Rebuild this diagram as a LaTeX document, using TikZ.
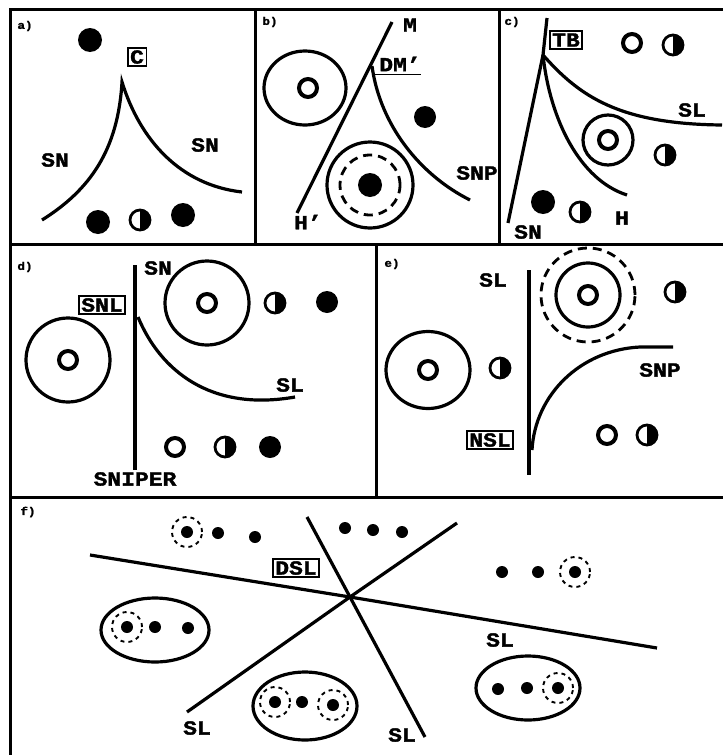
\documentclass[tikz,border=0pt]{standalone}
\usepackage{fontspec}
\setmainfont[FakeStretch=1.15,FakeBold=1.6]{Liberation Mono}
\usetikzlibrary{shapes.geometric}
\begin{document}
\begin{tikzpicture}[x=1pt,y=-1pt,
  lbl/.style={font=\bfseries\fontsize{20}{20}\selectfont, inner sep=0pt},
  plbl/.style={font=\bfseries\fontsize{11}{11}\selectfont, inner sep=0pt},
  boxlbl/.style={lbl, draw, line width=1.8pt, inner sep=2.5pt},
  frame/.style={line width=3pt},
  crv/.style={line width=3.2pt},
  fdot/.style={circle, fill=black, inner sep=0pt, minimum size=24pt},
  sdot/.style={circle, fill=black, inner sep=0pt, minimum size=12pt},
  odot/.style={circle, draw, fill=white, line width=4pt, inner sep=0pt, minimum size=18pt},
  hdot/.style={circle, draw, line width=2.8pt, inner sep=0pt, minimum size=20pt,
    path picture={\fill[black] (path picture bounding box.north) rectangle (path picture bounding box.south east);}},
  bigc/.style={circle, draw, line width=3.2pt, inner sep=0pt},
  dashc/.style={circle, draw, line width=2.8pt, inner sep=0pt, dash pattern=on 9pt off 6pt},
  sdash/.style={circle, draw, line width=1.9pt, inner sep=0pt, minimum size=30pt, dash pattern=on 4pt off 4pt},
  grp/.style={ellipse, draw, line width=3.2pt, inner sep=0pt}
]
\useasboundingbox[fill=white] (0,0) rectangle (723,755);

% frames
\draw[frame] (10,755) -- (10,9) -- (723,9);
\draw[frame] (10,244) -- (723,244);
\draw[frame] (10,497) -- (723,497);
\draw[frame] (255,9) -- (255,244);
\draw[frame] (499,9) -- (499,244);
\draw[frame] (376,244) -- (376,497);

% ---------- panel a ----------
\node[plbl] (aLab) at (25,26) {a)};
\node[fdot] (a1) at (90,40) {};
\node[boxlbl] (aC) at (137,57) {C};
\coordinate (aL) at (42,220);
\coordinate (aK) at (122,82);
\coordinate (aR) at (242,192);
\draw[crv] (aL) .. controls (90,190) and (118,150) .. (aK) .. controls (140,140) and (180,185) .. (aR);
\node[lbl] (aSN1) at (55,160) {SN};
\node[lbl] (aSN2) at (205,145) {SN};
\node[fdot] (a2) at (98,222) {};
\node[hdot] (a3) at (140,220) {};
\node[fdot] (a4) at (183,215) {};

% ---------- panel b ----------
\node[plbl] (bLab) at (270,22) {b)};
\node[ellipse, draw, line width=3.2pt, inner sep=0pt, minimum width=82pt, minimum height=74pt] (bC) at (305,88) {};
\node[odot] (bo) at (308,88) {};
\coordinate (bB) at (297,213);
\coordinate (bT) at (392,22);
\draw[crv] (bB) -- (bT);
\coordinate (bK) at (372,66);
\coordinate (bE) at (470,200);
\draw[crv] (bK) .. controls (380,125) and (420,175) .. (bE);
\node[lbl] (bM) at (410,25) {M};
\node[lbl] (bDM) at (400,64) {DM'};
\draw[line width=1.8pt] ([xshift=-6pt,yshift=-3pt]bDM.south west) -- ([yshift=-3pt]bDM.south east);
\node[fdot, minimum size=22pt] (b1) at (425,117) {};
\node[lbl] (bSNP) at (477,173) {SNP};
\node[bigc, minimum size=86pt] (bO) at (370,185) {};
\node[dashc, minimum size=60pt] (bD) at (370,185) {};
\node[fdot] (b2) at (370,185) {};
\node[lbl] (bH) at (308,222) {H'};

% ---------- panel c ----------
\node[plbl] (cLab) at (512,22) {c)};
\coordinate (cB) at (508,223);
\coordinate (cK) at (543,55);
\coordinate (cT) at (547,18);
\coordinate (cSLe) at (722,125);
\coordinate (cHe) at (627,195);
\draw[crv] (cB) -- (cK) -- (cT);
\draw[crv] (cK) .. controls (580,97) and (620,124) .. (cSLe);
\draw[crv] (cK) .. controls (550,120) and (580,180) .. (cHe);
\node[boxlbl] (cTB) at (566,40) {TB};
\node[odot] (c1) at (632,43) {};
\node[hdot] (c2) at (673,45) {};
\node[bigc, minimum size=50pt] (c3) at (608,140) {};
\node[odot] (c4) at (608,140) {};
\node[hdot] (c5) at (665,155) {};
\node[fdot] (c6) at (543,202) {};
\node[hdot] (c7) at (580,212) {};
\node[lbl] (cSL) at (692,110) {SL};
\node[lbl] (cH) at (622,218) {H};
\node[lbl] (cSN) at (528,232) {SN};

% ---------- panel d ----------
\node[plbl] (dLab) at (25,267) {d)};
\coordinate (dT) at (135,265);
\coordinate (dB) at (135,470);
\draw[crv] (dT) -- (dB);
\node[lbl] (dSN) at (158,268) {SN};
\node[boxlbl] (dSNL) at (102,305) {SNL};
\node[bigc, minimum size=84pt] (dC1) at (68,360) {};
\node[odot] (dC1i) at (68,360) {};
\coordinate (dS) at (138,317);
\coordinate (dE) at (295,397);
\draw[crv] (dS) .. controls (160,370) and (210,412) .. (dE);
\node[lbl] (dSL) at (290,385) {SL};
\node[bigc, minimum size=84pt] (dC2) at (207,303) {};
\node[odot] (dC2i) at (207,303) {};
\node[hdot] (d1) at (275,303) {};
\node[fdot, minimum size=22pt] (d2) at (327,302) {};
\node[odot] (d3) at (175,447) {};
\node[hdot] (d4) at (225,447) {};
\node[fdot, minimum size=22pt] (d5) at (270,447) {};
\node[lbl] (dSNIPER) at (135,479) {SNIPER};

% ---------- panel e ----------
\node[plbl] (eLab) at (392,264) {e)};
\node[lbl] (eSL) at (493,280) {SL};
\coordinate (eT) at (529,270);
\coordinate (eB) at (529,475);
\draw[crv] (eT) -- (eB);
\node[dashc, minimum size=94pt] (eD) at (588,295) {};
\node[bigc, minimum size=64pt] (eO) at (588,295) {};
\node[odot] (eOi) at (588,295) {};
\node[hdot] (e1) at (675,292) {};
\coordinate (eS) at (532,450);
\coordinate (eM) at (640,347);
\coordinate (eE) at (673,347);
\draw[crv] (eS) .. controls (535,395) and (580,350) .. (eM) -- (eE);
\node[lbl] (eSNP) at (660,370) {SNP};
\node[ellipse, draw, line width=3.2pt, inner sep=0pt, minimum width=84pt, minimum height=77pt] (eC) at (428,370) {};
\node[odot] (eCi) at (428,370) {};
\node[hdot] (e2) at (500,368) {};
\node[boxlbl] (eNSL) at (490,440) {NSL};
\node[odot] (e3) at (607,435) {};
\node[hdot] (e4) at (647,435) {};

% ---------- panel f ----------
\node[plbl] (fLab) at (28,512) {f)};
\coordinate (fX) at (350,597);
\coordinate (f1a) at (90,555);
\coordinate (f1b) at (657,648);
\coordinate (f2a) at (307,517);
\coordinate (f2b) at (425,737);
\coordinate (f3a) at (187,712);
\coordinate (f3b) at (457,523);
\draw[crv] (f1a) -- (fX) -- (f1b);
\draw[crv] (f2a) -- (fX) -- (f2b);
\draw[crv] (f3a) -- (fX) -- (f3b);
\node[boxlbl] (fDSL) at (296,568) {DSL};
\node[lbl] (fSL1) at (197,728) {SL};
\node[lbl] (fSL2) at (500,640) {SL};
\node[lbl] (fSL3) at (402,735) {SL};
% top left group
\node[sdash] (ft1c) at (187,532) {};
\node[sdot] (ft1) at (187,532) {};
\node[sdot] (ft2) at (218,533) {};
\node[sdot] (ft3) at (255,537) {};
% top middle
\node[sdot] (fm1) at (345,528) {};
\node[sdot] (fm2) at (373,530) {};
\node[sdot] (fm3) at (402,532) {};
% right
\node[sdot] (fr1) at (502,572) {};
\node[sdot] (fr2) at (538,572) {};
\node[sdash] (fr3c) at (575,572) {};
\node[sdot] (fr3) at (575,572) {};
% left ellipse
\node[grp, minimum width=108pt, minimum height=64pt] (fgL) at (155,630) {};
\node[sdash] (fgL1c) at (127,627) {};
\node[sdot] (fgL1) at (127,627) {};
\node[sdot] (fgL2) at (155,627) {};
\node[sdot] (fgL3) at (188,628) {};
% bottom middle ellipse
\node[grp, minimum width=104pt, minimum height=68pt] (fgM) at (305,706) {};
\node[sdash] (fgM1c) at (275,702) {};
\node[sdot] (fgM1) at (275,702) {};
\node[sdot] (fgM2) at (302,702) {};
\node[sdash] (fgM3c) at (333,705) {};
\node[sdot] (fgM3) at (333,705) {};
% bottom right ellipse
\node[grp, minimum width=104pt, minimum height=64pt] (fgR) at (528,688) {};
\node[sdot] (fgR1) at (498,689) {};
\node[sdot] (fgR2) at (527,688) {};
\node[sdash] (fgR3c) at (558,688) {};
\node[sdot] (fgR3) at (558,688) {};
\end{tikzpicture}
\end{document}
